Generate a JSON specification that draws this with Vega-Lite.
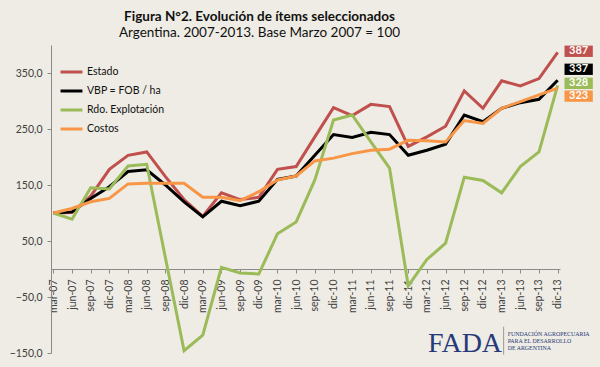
{
  "$schema": "https://vega.github.io/schema/vega-lite/v6.json",
  "autosize": {"type": "none"},
  "width": 509,
  "height": 308,
  "padding": {"left": 51, "top": 45, "right": 40, "bottom": 14},
  "background": "#EEECE4",
  "config": {"view": {"stroke": null}, "font": "Lato"},
  "title": {
    "text": "Figura N°2. Evolución de ítems seleccionados",
    "subtitle": "Argentina. 2007-2013. Base Marzo 2007 = 100",
    "anchor": "middle",
    "dx": -46,
    "fontSize": 13.5,
    "fontWeight": "bold",
    "color": "#111111",
    "subtitleFontSize": 13.5,
    "subtitleFontWeight": "normal",
    "subtitleColor": "#111111",
    "subtitlePadding": 2,
    "offset": 6
  },
  "data": {
    "values": [
      {"f":"mar-07","s":"Estado","v":100},{"f":"jun-07","s":"Estado","v":101},{"f":"sep-07","s":"Estado","v":130},{"f":"dic-07","s":"Estado","v":178},
      {"f":"mar-08","s":"Estado","v":203},{"f":"jun-08","s":"Estado","v":209},{"f":"sep-08","s":"Estado","v":165},{"f":"dic-08","s":"Estado","v":124},
      {"f":"mar-09","s":"Estado","v":94},{"f":"jun-09","s":"Estado","v":136},{"f":"sep-09","s":"Estado","v":124},{"f":"dic-09","s":"Estado","v":128},
      {"f":"mar-10","s":"Estado","v":178},{"f":"jun-10","s":"Estado","v":183},{"f":"sep-10","s":"Estado","v":236},{"f":"dic-10","s":"Estado","v":288},
      {"f":"mar-11","s":"Estado","v":274},{"f":"jun-11","s":"Estado","v":294},{"f":"sep-11","s":"Estado","v":290},{"f":"dic-11","s":"Estado","v":219},
      {"f":"mar-12","s":"Estado","v":236},{"f":"jun-12","s":"Estado","v":255},{"f":"sep-12","s":"Estado","v":318},{"f":"dic-12","s":"Estado","v":287},
      {"f":"mar-13","s":"Estado","v":336},{"f":"jun-13","s":"Estado","v":327},{"f":"sep-13","s":"Estado","v":340},{"f":"dic-13","s":"Estado","v":387},

      {"f":"mar-07","s":"VBP = FOB / ha","v":100},{"f":"jun-07","s":"VBP = FOB / ha","v":102},{"f":"sep-07","s":"VBP = FOB / ha","v":126},{"f":"dic-07","s":"VBP = FOB / ha","v":147},
      {"f":"mar-08","s":"VBP = FOB / ha","v":174},{"f":"jun-08","s":"VBP = FOB / ha","v":177},{"f":"sep-08","s":"VBP = FOB / ha","v":150},{"f":"dic-08","s":"VBP = FOB / ha","v":120},
      {"f":"mar-09","s":"VBP = FOB / ha","v":93},{"f":"jun-09","s":"VBP = FOB / ha","v":121},{"f":"sep-09","s":"VBP = FOB / ha","v":113},{"f":"dic-09","s":"VBP = FOB / ha","v":121},
      {"f":"mar-10","s":"VBP = FOB / ha","v":160},{"f":"jun-10","s":"VBP = FOB / ha","v":166},{"f":"sep-10","s":"VBP = FOB / ha","v":203},{"f":"dic-10","s":"VBP = FOB / ha","v":240},
      {"f":"mar-11","s":"VBP = FOB / ha","v":235},{"f":"jun-11","s":"VBP = FOB / ha","v":244},{"f":"sep-11","s":"VBP = FOB / ha","v":240},{"f":"dic-11","s":"VBP = FOB / ha","v":203},
      {"f":"mar-12","s":"VBP = FOB / ha","v":212},{"f":"jun-12","s":"VBP = FOB / ha","v":223},{"f":"sep-12","s":"VBP = FOB / ha","v":275},{"f":"dic-12","s":"VBP = FOB / ha","v":263},
      {"f":"mar-13","s":"VBP = FOB / ha","v":287},{"f":"jun-13","s":"VBP = FOB / ha","v":297},{"f":"sep-13","s":"VBP = FOB / ha","v":303},{"f":"dic-13","s":"VBP = FOB / ha","v":337},

      {"f":"mar-07","s":"Rdo. Explotación","v":100},{"f":"jun-07","s":"Rdo. Explotación","v":89},{"f":"sep-07","s":"Rdo. Explotación","v":145},{"f":"dic-07","s":"Rdo. Explotación","v":143},
      {"f":"mar-08","s":"Rdo. Explotación","v":184},{"f":"jun-08","s":"Rdo. Explotación","v":187},{"f":"sep-08","s":"Rdo. Explotación","v":20},{"f":"dic-08","s":"Rdo. Explotación","v":-146},
      {"f":"mar-09","s":"Rdo. Explotación","v":-118},{"f":"jun-09","s":"Rdo. Explotación","v":3},{"f":"sep-09","s":"Rdo. Explotación","v":-7},{"f":"dic-09","s":"Rdo. Explotación","v":-9},
      {"f":"mar-10","s":"Rdo. Explotación","v":63},{"f":"jun-10","s":"Rdo. Explotación","v":84},{"f":"sep-10","s":"Rdo. Explotación","v":159},{"f":"dic-10","s":"Rdo. Explotación","v":266},
      {"f":"mar-11","s":"Rdo. Explotación","v":275},{"f":"jun-11","s":"Rdo. Explotación","v":227},{"f":"sep-11","s":"Rdo. Explotación","v":180},{"f":"dic-11","s":"Rdo. Explotación","v":-30},
      {"f":"mar-12","s":"Rdo. Explotación","v":17},{"f":"jun-12","s":"Rdo. Explotación","v":46},{"f":"sep-12","s":"Rdo. Explotación","v":164},{"f":"dic-12","s":"Rdo. Explotación","v":158},
      {"f":"mar-13","s":"Rdo. Explotación","v":136},{"f":"jun-13","s":"Rdo. Explotación","v":183},{"f":"sep-13","s":"Rdo. Explotación","v":209},{"f":"dic-13","s":"Rdo. Explotación","v":328},

      {"f":"mar-07","s":"Costos","v":100},{"f":"jun-07","s":"Costos","v":108},{"f":"sep-07","s":"Costos","v":120},{"f":"dic-07","s":"Costos","v":126},
      {"f":"mar-08","s":"Costos","v":152},{"f":"jun-08","s":"Costos","v":153},{"f":"sep-08","s":"Costos","v":153},{"f":"dic-08","s":"Costos","v":153},
      {"f":"mar-09","s":"Costos","v":128},{"f":"jun-09","s":"Costos","v":128},{"f":"sep-09","s":"Costos","v":122},{"f":"dic-09","s":"Costos","v":138},
      {"f":"mar-10","s":"Costos","v":159},{"f":"jun-10","s":"Costos","v":166},{"f":"sep-10","s":"Costos","v":193},{"f":"dic-10","s":"Costos","v":198},
      {"f":"mar-11","s":"Costos","v":206},{"f":"jun-11","s":"Costos","v":212},{"f":"sep-11","s":"Costos","v":214},{"f":"dic-11","s":"Costos","v":230},
      {"f":"mar-12","s":"Costos","v":229},{"f":"jun-12","s":"Costos","v":227},{"f":"sep-12","s":"Costos","v":265},{"f":"dic-12","s":"Costos","v":260},
      {"f":"mar-13","s":"Costos","v":287},{"f":"jun-13","s":"Costos","v":299},{"f":"sep-13","s":"Costos","v":311},{"f":"dic-13","s":"Costos","v":323}
    ]
  },
  "encoding": {
    "x": {
      "field": "f",
      "type": "ordinal",
      "scale": {
        "type": "point",
        "padding": 0.125,
        "domain": ["mar-07","jun-07","sep-07","dic-07","mar-08","jun-08","sep-08","dic-08","mar-09","jun-09","sep-09","dic-09","mar-10","jun-10","sep-10","dic-10","mar-11","jun-11","sep-11","dic-11","mar-12","jun-12","sep-12","dic-12","mar-13","jun-13","sep-13","dic-13"]
      },
      "axis": {
        "title": null,
        "offset": -84,
        "labelAngle": -90,
        "labelFontSize": 10.5,
        "labelColor": "#404040",
        "domainColor": "#8a8a8a",
        "tickColor": "#8a8a8a",
        "tickSize": 4,
        "labelPadding": 6,
        "grid": false
      }
    },
    "y": {
      "field": "v",
      "type": "quantitative",
      "scale": {"domain": [-150, 400], "nice": false, "zero": false},
      "axis": {
        "title": null,
        "values": [-150, -50, 50, 150, 250, 350],
        "labelExpr": "replace(format(datum.value, '.1f'), '.', ',')",
        "grid": false,
        "domainColor": "#8a8a8a",
        "tickColor": "#8a8a8a",
        "tickSize": 4,
        "labelPadding": 5,
        "labelFontSize": 10.5,
        "labelColor": "#404040"
      }
    }
  },
  "layer": [
    {
      "mark": {"type": "line", "strokeWidth": 3},
      "encoding": {
        "color": {
          "field": "s",
          "type": "nominal",
          "sort": null,
          "scale": {
            "domain": ["Estado", "VBP = FOB / ha", "Rdo. Explotación", "Costos"],
            "range": ["#C0504D", "#000000", "#9BBB59", "#F79646"]
          },
          "legend": {
            "title": null,
            "orient": "none",
            "legendX": 8,
            "legendY": 14.5,
            "symbolType": "stroke",
            "symbolStrokeWidth": 3,
            "symbolSize": 480,
            "labelFontSize": 10.5,
            "labelColor": "#111111",
            "labelOffset": 3,
            "rowPadding": 0
          }
        }
      }
    },
    {
      "transform": [{"filter": "datum.s === 'Estado' && datum.f === 'dic-13'"}],
      "layer": [
        {"mark": {"type": "point", "shape": "M-1,-0.4H1V0.4H-1Z", "size": 801, "filled": true, "opacity": 1, "color": "#C0504D", "xOffset": 21, "yOffset": -1}},
        {"mark": {"type": "text", "color": "white", "fontWeight": "bold", "fontSize": 11, "baseline": "middle", "xOffset": 21, "yOffset": -1}, "encoding": {"text": {"field": "v"}}}
      ]
    },
    {
      "transform": [{"filter": "datum.s === 'VBP = FOB / ha' && datum.f === 'dic-13'"}],
      "layer": [
        {"mark": {"type": "point", "shape": "M-1,-0.4H1V0.4H-1Z", "size": 801, "filled": true, "opacity": 1, "color": "#000000", "xOffset": 21, "yOffset": -11}},
        {"mark": {"type": "text", "color": "white", "fontWeight": "bold", "fontSize": 11, "baseline": "middle", "xOffset": 21, "yOffset": -11}, "encoding": {"text": {"field": "v"}}}
      ]
    },
    {
      "transform": [{"filter": "datum.s === 'Rdo. Explotación' && datum.f === 'dic-13'"}],
      "layer": [
        {"mark": {"type": "point", "shape": "M-1,-0.4H1V0.4H-1Z", "size": 801, "filled": true, "opacity": 1, "color": "#9BBB59", "xOffset": 21, "yOffset": -2}},
        {"mark": {"type": "text", "color": "white", "fontWeight": "bold", "fontSize": 11, "baseline": "middle", "xOffset": 21, "yOffset": -2}, "encoding": {"text": {"field": "v"}}}
      ]
    },
    {
      "transform": [{"filter": "datum.s === 'Costos' && datum.f === 'dic-13'"}],
      "layer": [
        {"mark": {"type": "point", "shape": "M-1,-0.4H1V0.4H-1Z", "size": 801, "filled": true, "opacity": 1, "color": "#F79646", "xOffset": 21, "yOffset": 8}},
        {"mark": {"type": "text", "color": "white", "fontWeight": "bold", "fontSize": 11, "baseline": "middle", "xOffset": 21, "yOffset": 8}, "encoding": {"text": {"field": "v"}}}
      ]
    },
    {
      "transform": [{"filter": "datum.s === 'Estado' && datum.f === 'mar-12'"}],
      "mark": {"type": "text", "text": "FADA", "font": "Liberation Serif", "fontSize": 28, "color": "#26397A", "align": "left", "baseline": "alphabetic", "xOffset": 1},
      "encoding": {
        "y": {"datum": -148, "type": "quantitative"}
      }
    },
    {
      "transform": [{"filter": "datum.s === 'Estado' && datum.f === 'mar-13'"}],
      "mark": {"type": "rule", "color": "#9a9a9a", "strokeWidth": 1, "xOffset": 2},
      "encoding": {
        "y": {"datum": -103, "type": "quantitative"},
        "y2": {"datum": -153}
      }
    },
    {
      "transform": [{"filter": "datum.s === 'Estado' && datum.f === 'mar-13'"}],
      "mark": {"type": "text", "text": ["FUNDACIÓN AGROPECUARIA", "PARA EL DESARROLLO", "DE ARGENTINA"], "font": "Liberation Serif", "fontSize": 5.9, "lineHeight": 7, "color": "#26397A", "align": "left", "baseline": "top", "xOffset": 6},
      "encoding": {
        "y": {"datum": -111, "type": "quantitative"}
      }
    }
  ]
}
